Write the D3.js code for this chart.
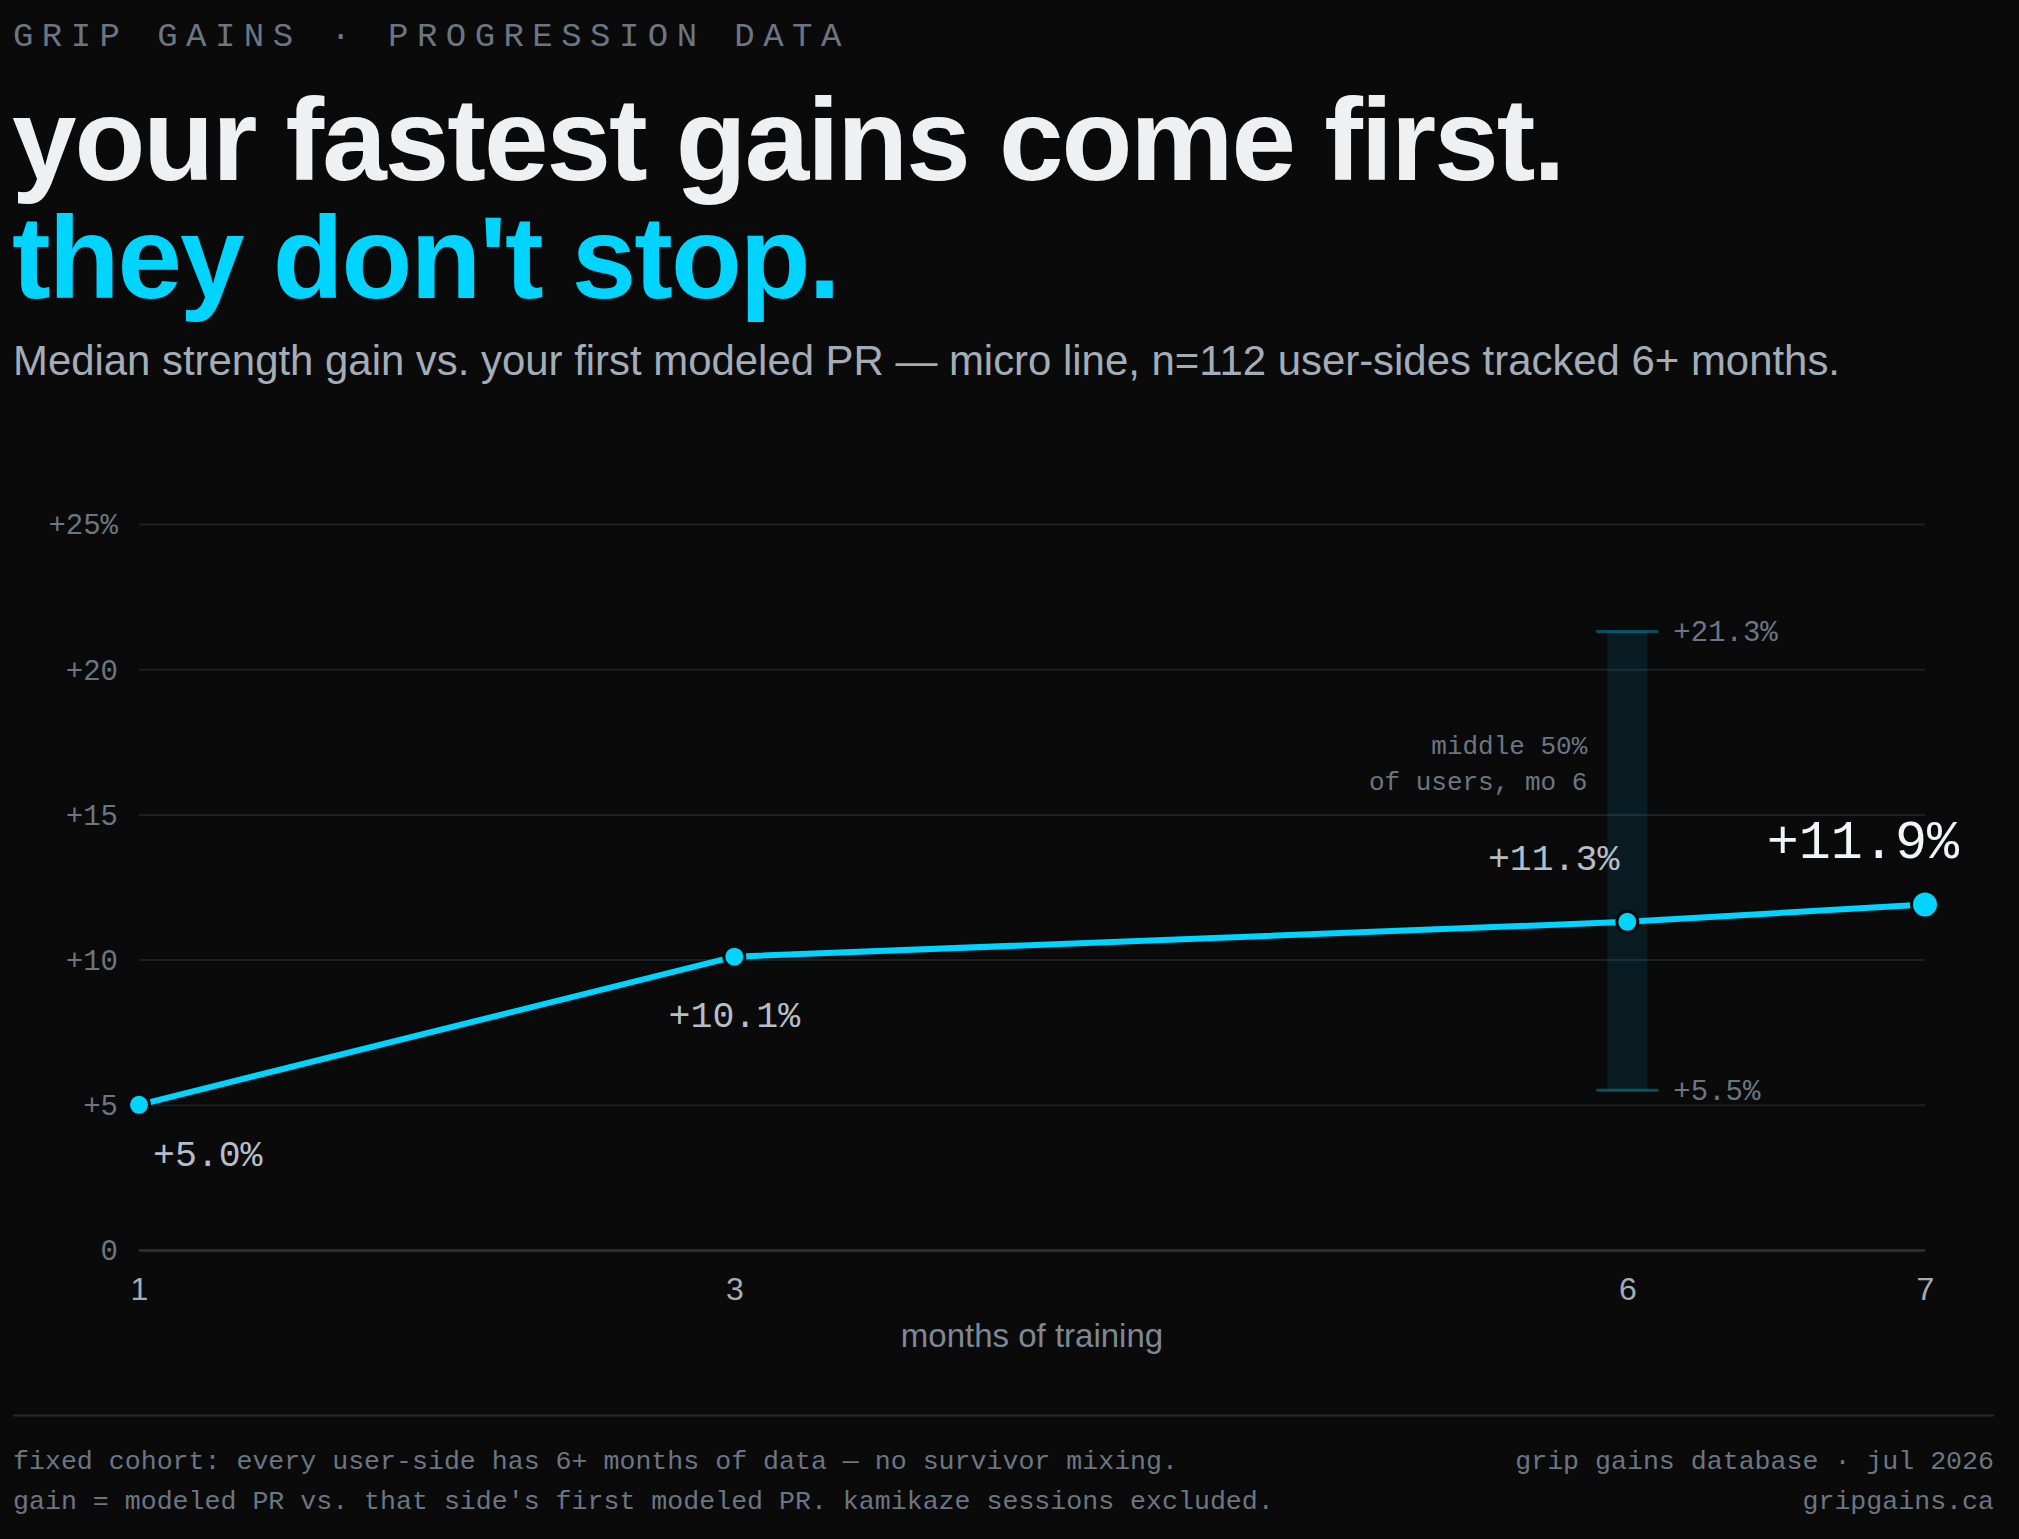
<!DOCTYPE html>
<html>
<head>
<meta charset="utf-8">
<script src="https://cdn.jsdelivr.net/npm/d3@7"></script>
<style>
  html, body { margin: 0; padding: 0; background: #0a0a0b; }
  svg { display: block; }
  .mono { font-family: "Liberation Mono", monospace; }
  .sans { font-family: "Liberation Sans", Arial, sans-serif; }
</style>
</head>
<body>
<div id="chart"></div>
<script>
// data
const months = [1, 3, 6, 7];
const gains = [5.0, 10.1, 11.3, 11.9];
const xTicks = [1, 3, 6, 7];
const yTicks = [0, 5, 10, 15, 20, 25];
const bandMonth = 6;
const bandRange = [5.5, 21.3];

const width = 2019,
    height = 1539,
    margin = ({ top: 524, right: 94, bottom: 289, left: 139 });

const cyan = "#00d4ff",
    muted = "#6b7682",
    soft = "#a3adb8",
    bg = "#0a0a0b";

const svg = d3.select("#chart")
    .append("svg")
    .attr("width", width)
    .attr("height", height)
    .attr("viewBox", [0, 0, width, height]);

svg.append("rect").attr("width", width).attr("height", height).attr("fill", bg);

// header
svg.append("text")
    .attr("class", "mono")
    .attr("x", 13).attr("y", 46)
    .attr("font-size", 34)
    .attr("letter-spacing", 8.45)
    .attr("fill", muted)
    .text("GRIP GAINS \u00b7 PROGRESSION DATA");

svg.selectAll(".head")
    .data(["your fastest gains come first.", "they don't stop."])
    .join("text")
    .attr("class", "head sans")
    .attr("x", 12)
    .attr("y", (d, i) => 180 + i * 118)
    .attr("font-size", 116)
    .attr("font-weight", 700)
    .attr("letter-spacing", -2.0)
    .attr("fill", (d, i) => i === 0 ? "#eef1f4" : cyan)
    .text(d => d);

svg.append("text")
    .attr("class", "sans")
    .attr("x", 13).attr("y", 375)
    .attr("font-size", 41.9)
    .attr("fill", soft)
    .text("Median strength gain vs. your first modeled PR \u2014 micro line, n=112 user-sides tracked 6+ months.");

// scales
const x = d3.scaleLinear()
    .domain([1, 7])
    .range([margin.left, width - margin.right]);

const y = d3.scaleLinear()
    .domain([0, 25])
    .range([height - margin.bottom, margin.top]);

// y axis + grid
const yAxis = svg.append("g")
    .attr("transform", `translate(${margin.left},0)`)
    .call(d3.axisLeft(y)
        .tickValues(yTicks)
        .tickSize(-(width - margin.left - margin.right))
        .tickPadding(21)
        .tickFormat(d => d === 0 ? "0" : d === 25 ? "+25%" : "+" + d));

yAxis.select(".domain").remove();
yAxis.selectAll(".tick line")
    .attr("stroke", d => d === 0 ? "#262d35" : "#1b2026")
    .attr("stroke-width", d => d === 0 ? 3 : 2);
yAxis.selectAll(".tick text")
    .attr("class", "mono")
    .attr("font-size", 29)
    .attr("fill", muted)
    .attr("dy", "0.34em");

// x axis
const xAxis = svg.append("g")
    .attr("transform", `translate(0,${y(0)})`)
    .call(d3.axisBottom(x)
        .tickValues(xTicks)
        .tickSize(0)
        .tickPadding(27)
        .tickFormat(d3.format("d")));

xAxis.select(".domain").remove();
xAxis.selectAll(".tick text")
    .attr("class", "sans")
    .attr("font-size", 32)
    .attr("fill", soft);

svg.append("text")
    .attr("class", "sans")
    .attr("x", (x(1) + x(7)) / 2)
    .attr("y", 1347)
    .attr("text-anchor", "middle")
    .attr("font-size", 33)
    .attr("fill", "#7d8894")
    .text("months of training");

// middle-50% band at month 6
const bx = x(bandMonth);
svg.append("rect")
    .attr("x", bx - 20)
    .attr("y", y(bandRange[1]))
    .attr("width", 40)
    .attr("height", y(bandRange[0]) - y(bandRange[1]))
    .attr("fill", cyan)
    .attr("fill-opacity", 0.09);

svg.selectAll(".cap")
    .data(bandRange)
    .join("line")
    .attr("class", "cap")
    .attr("x1", bx - 31).attr("x2", bx + 31)
    .attr("y1", d => y(d)).attr("y2", d => y(d))
    .attr("stroke", cyan)
    .attr("stroke-opacity", 0.35)
    .attr("stroke-width", 3);

svg.selectAll(".capLabel")
    .data(bandRange)
    .join("text")
    .attr("class", "capLabel mono")
    .attr("x", bx + 46)
    .attr("y", d => y(d))
    .attr("dy", "0.34em")
    .attr("font-size", 29)
    .attr("fill", muted)
    .text(d => "+" + d.toFixed(1) + "%");

svg.append("text")
    .attr("class", "mono")
    .attr("y", 754)
    .attr("text-anchor", "end")
    .attr("font-size", 26)
    .attr("fill", muted)
    .selectAll("tspan")
    .data(["middle 50%", "of users, mo 6"])
    .join("tspan")
    .attr("x", bx - 40)
    .attr("dy", (d, i) => i === 0 ? 0 : 36)
    .text(d => d);

// line
const line = d3.line()
    .x((d, i) => x(months[i]))
    .y(d => y(d));

svg.append("path")
    .datum(gains)
    .attr("fill", "none")
    .attr("stroke", cyan)
    .attr("stroke-width", 6)
    .attr("d", line);

svg.selectAll(".dot")
    .data(gains)
    .join("circle")
    .attr("class", "dot")
    .attr("cx", (d, i) => x(months[i]))
    .attr("cy", d => y(d))
    .attr("r", (d, i) => i === gains.length - 1 ? 13.5 : 10.5)
    .attr("fill", cyan)
    .attr("stroke", bg)
    .attr("stroke-width", 3);

// value labels
const labelPos = [
    { dx: 14, dy: 61, anchor: "start", size: 36.5, fill: "#b5bec8" },
    { dx: 0, dy: 70, anchor: "middle", size: 36.5, fill: "#b5bec8" },
    { dx: -8, dy: -52, anchor: "end", size: 36.5, fill: "#b5bec8" },
    { dx: 34, dy: -46, anchor: "end", size: 53.4, fill: "#f2f4f7" }
];

svg.selectAll(".val")
    .data(gains)
    .join("text")
    .attr("class", "val mono")
    .attr("x", (d, i) => x(months[i]) + labelPos[i].dx)
    .attr("y", (d, i) => y(d) + labelPos[i].dy)
    .attr("text-anchor", (d, i) => labelPos[i].anchor)
    .attr("font-size", (d, i) => labelPos[i].size)
    .attr("fill", (d, i) => labelPos[i].fill)
    .text(d => "+" + d.toFixed(1) + "%");

// footer
svg.append("line")
    .attr("x1", 13).attr("x2", 1994)
    .attr("y1", 1415.5).attr("y2", 1415.5)
    .attr("stroke", "#232a31")
    .attr("stroke-width", 2);

const footLeft = [
    "fixed cohort: every user-side has 6+ months of data \u2014 no survivor mixing.",
    "gain = modeled PR vs. that side's first modeled PR. kamikaze sessions excluded."
];
const footRight = ["grip gains database \u00b7 jul 2026", "gripgains.ca"];

svg.selectAll(".footL")
    .data(footLeft)
    .join("text")
    .attr("class", "footL mono")
    .attr("x", 13)
    .attr("y", (d, i) => 1469 + i * 40)
    .attr("font-size", 26.6)
    .attr("fill", muted)
    .text(d => d);

svg.selectAll(".footR")
    .data(footRight)
    .join("text")
    .attr("class", "footR mono")
    .attr("x", 1994)
    .attr("y", (d, i) => 1469 + i * 40)
    .attr("text-anchor", "end")
    .attr("font-size", 26.6)
    .attr("fill", muted)
    .text(d => d);
</script>
</body>
</html>
